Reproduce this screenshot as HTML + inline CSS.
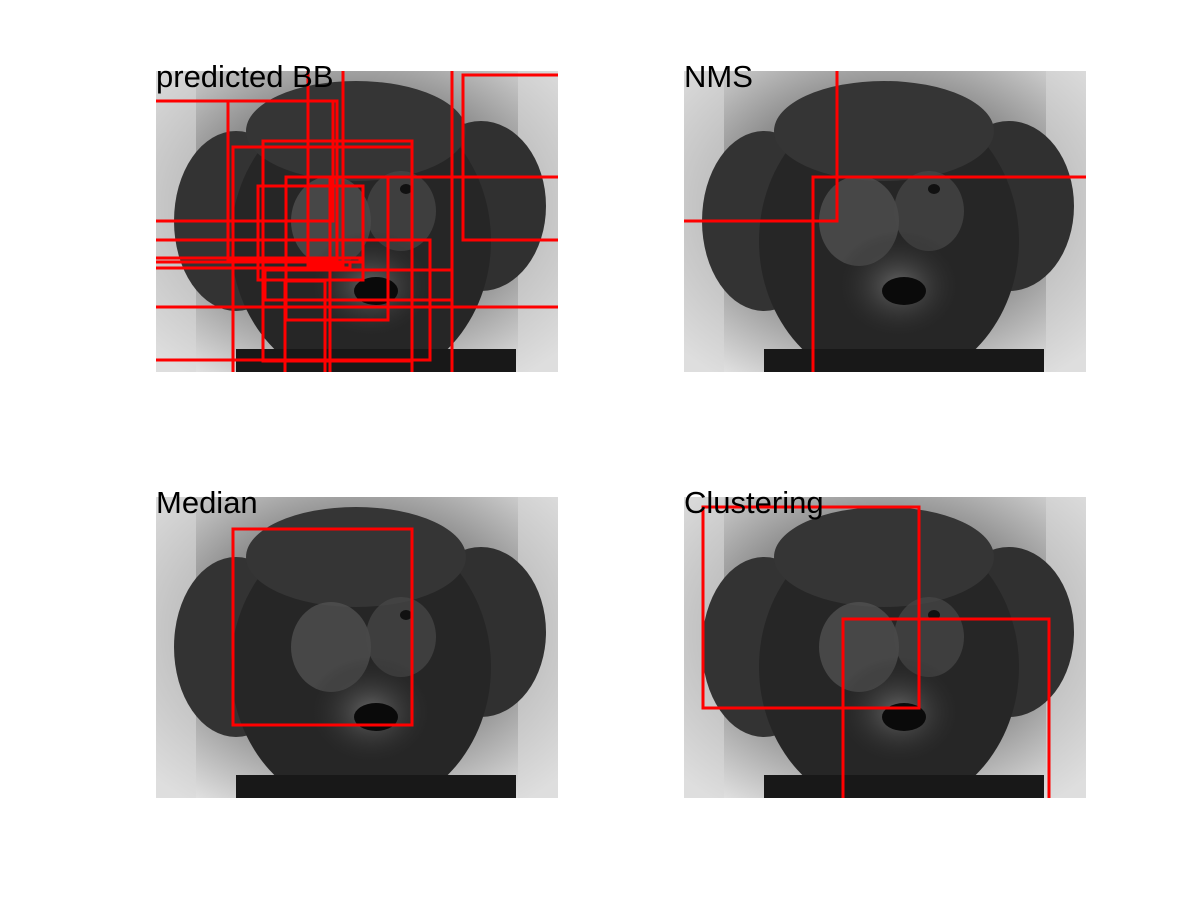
<!DOCTYPE html>
<html><head><meta charset="utf-8">
<style>
html,body{margin:0;padding:0;background:#fff;width:1200px;height:900px;overflow:hidden}
svg{display:block}
text{font-family:"Liberation Sans",Arial,sans-serif}
</style></head>
<body>
<svg id="fig" width="1200" height="900" viewBox="0 0 1200 900">
<defs>
<radialGradient id="bg" cx="50%" cy="45%" r="70%">
<stop offset="0" stop-color="#6a6a6a"/><stop offset="0.55" stop-color="#8f8f8f"/><stop offset="1" stop-color="#e6e6e6"/>
</radialGradient>
<radialGradient id="muz" cx="50%" cy="50%" r="50%">
<stop offset="0" stop-color="#666"/><stop offset="1" stop-color="#222" stop-opacity="0"/>
</radialGradient>
<clipPath id="clip"><rect x="0" y="0" width="402" height="301"/></clipPath>
<g id="dog" clip-path="url(#clip)">
<rect x="0" y="0" width="402" height="301" fill="url(#bg)"/>
<rect x="0" y="0" width="40" height="301" fill="#d8d8d8" opacity="0.6"/>
<rect x="362" y="0" width="40" height="301" fill="#d8d8d8" opacity="0.6"/>
<ellipse cx="80" cy="150" rx="62" ry="90" fill="#333"/>
<ellipse cx="325" cy="135" rx="65" ry="85" fill="#303030"/>
<ellipse cx="205" cy="170" rx="130" ry="145" fill="#262626"/>
<ellipse cx="200" cy="60" rx="110" ry="50" fill="#353535"/>
<ellipse cx="175" cy="150" rx="40" ry="45" fill="#555" opacity="0.7"/>
<ellipse cx="245" cy="140" rx="35" ry="40" fill="#484848" opacity="0.7"/>
<ellipse cx="215" cy="215" rx="65" ry="55" fill="url(#muz)"/>
<ellipse cx="220" cy="220" rx="22" ry="14" fill="#0a0a0a"/>
<ellipse cx="250" cy="118" rx="6" ry="5" fill="#111"/>
<rect x="80" y="278" width="280" height="23" fill="#181818"/>
</g>
</defs>
</svg>
<script>
// panel origins and titles
const panelTitles = ["predicted BB","NMS","Median","Clustering"];
const panelX = [156,684,156,684];
const panelY = [71,71,497,497];
// boxes in image coordinates [x, y, w, h] per panel
const boxesBB = [
 [-10,30,187,120],[72,30,109,159],[152,-20,35,214],[307,4,110,165],[296,-20,150,340],
 [174,106,240,200],[77,76,179,230],[107,70,149,220],[102,115,105,94],[130,106,102,143],
 [-10,169,284,120],[-10,187,214,4],[-10,191,204,6],[109,199,187,30],[-10,236,420,90],[129,210,40,100]
];
const boxesNMS = [[-10,-20,163,170],[129,106,300,220]];
const boxesMed = [[77,32,179,196]];
const boxesClu = [[19,10,216,201],[159,122,206,200]];
const allBoxes = [boxesBB,boxesNMS,boxesMed,boxesClu];
const NS="http://www.w3.org/2000/svg";
const fig=document.getElementById('fig');
for(let p=0;p<4;p++){
  const g=document.createElementNS(NS,'g');
  g.setAttribute('transform','translate('+panelX[p]+','+panelY[p]+')');
  
  
  const u=document.createElementNS(NS,'use');
  u.setAttribute('href','#dog');
  
  
  g.appendChild(u);
  const bg=document.createElementNS(NS,'g');
  bg.setAttribute('clip-path','url(#clip)');
  allBoxes[p].forEach(b=>{
    const r=document.createElementNS(NS,'rect');
    r.setAttribute('x',b[0]);r.setAttribute('y',b[1]);
    r.setAttribute('width',b[2]);r.setAttribute('height',b[3]);
    r.setAttribute('fill','none');r.setAttribute('stroke','#ff0000');r.setAttribute('stroke-width','3');
    
    
    bg.appendChild(r);
  });
  g.appendChild(bg);
  const t=document.createElementNS(NS,'text');
  t.setAttribute('x',0);t.setAttribute('y',16);
  t.setAttribute('font-size','31');t.setAttribute('fill','#000');
  t.textContent=panelTitles[p];
  
  
  g.appendChild(t);
  fig.appendChild(g);
}
</script>
</body></html>
